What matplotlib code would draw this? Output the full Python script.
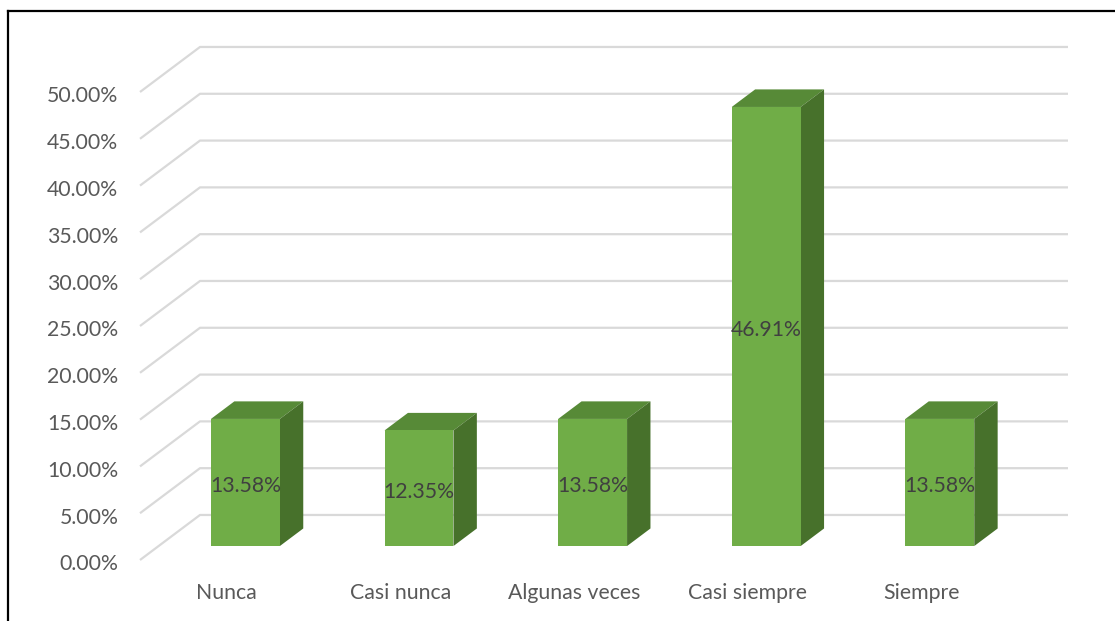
import numpy as np
import matplotlib.pyplot as plt
from matplotlib.patches import Polygon

# respuestas por categoria (%)
categorias = ['Nunca', 'Casi nunca', 'Algunas veces', 'Casi siempre', 'Siempre']
porcentajes = [13.58, 12.35, 13.58, 46.91, 13.58]
ticks = np.arange(0, 55, 5)

# 3d look: offset of back wall relative to front edge (x in categories, y in %)
dx, dy = 0.3456, 4.81
front_f = 0.31   # depth position of bar front face
back_f = 0.70    # depth position of bar back face
ancho = 0.397

c_front = '#70AD47'
c_top = '#578A37'
c_side = '#47712B'
c_grid = '#D9D9D9'

plt.rcParams['font.family'] = ['Lato', 'DejaVu Sans']

fig = plt.figure(figsize=(11.15, 6.21), dpi=100)
ax = fig.add_axes([0, 0, 1, 1])
ax.set_xlim(-140 / 173.6, (1115 - 140) / 173.6)
ax.set_ylim((560 - 621) / 9.36, 560 / 9.36)
ax.axis('off')

n = len(categorias)

# gridlines: diagonal on the side wall + horizontal on the back wall
for t in ticks:
    ax.plot([0, dx, n + dx], [t, t + dy, t + dy], color=c_grid, lw=1.6, zorder=1,
            solid_capstyle='butt')
    ax.text(-0.125, t - 0.25, '%.2f%%' % t, ha='right', va='center_baseline', fontsize=15.3,
            color='#595959')

for i, (cat, p) in enumerate(zip(categorias, porcentajes)):
    xc = i + 0.5
    x0 = xc - ancho / 2 + front_f * dx
    x1 = xc + ancho / 2 + front_f * dx
    y0 = front_f * dy
    y1 = y0 + p
    ddx = (back_f - front_f) * dx
    ddy = (back_f - front_f) * dy
    # top and side faces
    ax.add_patch(Polygon([(x0, y1), (x1, y1), (x1 + ddx, y1 + ddy), (x0 + ddx, y1 + ddy)],
                         closed=True, fc=c_top, ec='none', zorder=3))
    ax.add_patch(Polygon([(x1, y0), (x1 + ddx, y0 + ddy), (x1 + ddx, y1 + ddy), (x1, y1)],
                         closed=True, fc=c_side, ec='none', zorder=3))
    ax.add_patch(Polygon([(x0, y0), (x1, y0), (x1, y1), (x0, y1)],
                         closed=True, fc=c_front, ec='none', zorder=4))
    ax.text((x0 + x1) / 2, (y0 + y1) / 2 - 0.2, '%.2f%%' % p, ha='center',
            va='center_baseline', fontsize=15.3, color='#404040', zorder=5)
    ax.text(xc, -3.3, cat, ha='center', va='center_baseline', fontsize=15.3, color='#595959')

# outer frame (left and top edges only)
fig.add_artist(plt.Line2D([8 / 1115, 8 / 1115], [0, 1 - 11 / 621], color='black', lw=1.6,
                          transform=fig.transFigure))
fig.add_artist(plt.Line2D([8 / 1115, 1], [1 - 11 / 621, 1 - 11 / 621], color='black', lw=1.6,
                          transform=fig.transFigure))

fig.savefig('out.png', dpi=100, facecolor='white')
